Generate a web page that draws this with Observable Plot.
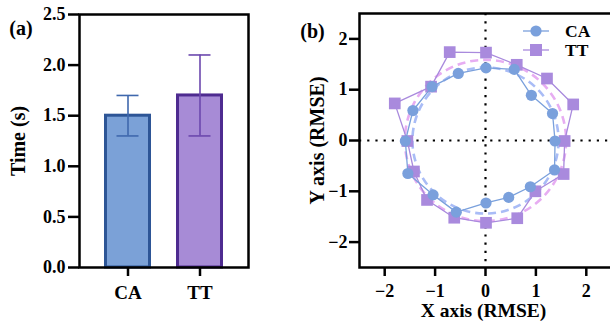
<!DOCTYPE html>
<html>
<head>
<meta charset="utf-8">
<script src="https://cdn.jsdelivr.net/npm/d3@7"></script>
<script src="https://cdn.jsdelivr.net/npm/@observablehq/plot@0.6"></script>
<style>
  html, body { margin: 0; padding: 0; background: #fff; overflow: hidden; }
  #wrap { position: relative; width: 610px; height: 322px; overflow: hidden; }
  #left, #right { position: absolute; top: 0; }
  #left { left: 0; }
  #right { left: 290px; }
  .lg-row { position: absolute; left: 520px; height: 16px; display: flex; align-items: center;
            font-family: 'Liberation Serif', 'Times New Roman', Tinos, serif; font-weight: bold; font-size: 17.5px; line-height: 16px; }
  .lg-row svg { display: block; margin-right: 13px; }
</style>
</head>
<body>
<div id="wrap">
  <div id="left"></div>
  <div id="right"></div>
</div>
<script>
// ---------- data: panel (a) ----------
const barCats = ["CA", "TT"];
const barMeans = [1.5, 1.7];
const barLow = [1.3, 1.3];
const barHigh = [1.7, 2.1];
const barTicks = [0, 0.5, 1.0, 1.5, 2.0, 2.5];

// ---------- data: panel (b) ----------
const caX = [0.01, 0.57, 0.91, 1.33, 1.38, 1.37, 0.89, 0.46, 0.01, -0.58, -1.04, -1.54, -1.59, -1.44, -1.06, -0.54];
const caY = [1.43, 1.40, 0.89, 0.53, -0.01, -0.58, -0.91, -1.12, -1.23, -1.41, -1.07, -0.65, -0.01, 0.59, 1.06, 1.32];
const ttX = [0.01, 0.62, 1.22, 1.74, 1.57, 1.55, 0.99, 0.63, 0.01, -0.62, -1.16, -1.42, -1.55, -1.80, -1.08, -0.71];
const ttY = [1.73, 1.49, 1.22, 0.71, -0.01, -0.66, -1.00, -1.53, -1.62, -1.52, -1.17, -0.61, -0.01, 0.73, 1.06, 1.74];
const fitGroups = ["CA", "TT"];
const fitRadii = [1.45, 1.6];
const rmseTicks = [-2, -1, 0, 1, 2];

// ---------- styles ----------
const barFill = {CA: "#7ba1d7", TT: "#a78bd6"};
const barStroke = {CA: "#2d5596", TT: "#4e2b90"};
const errColor = {CA: "#3f68ad", TT: "#6c48ae"};
const seriesColor = {CA: "#7aa0dc", TT: "#a98add"};
const fitColor = {CA: "#a9bcf6", TT: "#e7adf2"};
const font = "'Liberation Serif', 'Times New Roman', Tinos, serif";
const baseStyle = {fontFamily: font, fontWeight: "bold", fontSize: "18px", color: "#000", background: "transparent", overflow: "visible", maxWidth: "none"};

const bars = barCats.map((c, i) => ({cat: c, mean: barMeans[i], lo: barLow[i], hi: barHigh[i]}));

// ---------- panel (a) ----------
const left = Plot.plot({
  width: 290, height: 322,
  marginLeft: 79, marginRight: 42, marginTop: 14, marginBottom: 55,
  style: baseStyle,
  x: {domain: barCats, paddingInner: 0.35, paddingOuter: 0.34, axis: null},
  y: {domain: [0, 2.5], axis: null},
  marks: [
    Plot.barY(bars, {x: "cat", y: "mean", fill: d => barFill[d.cat], stroke: d => barStroke[d.cat], strokeWidth: 3, insetLeft: 1.5, insetRight: 1.5}),
    Plot.ruleX(bars, {x: "cat", y1: "lo", y2: "hi", stroke: d => errColor[d.cat], strokeWidth: 1.6}),
    Plot.tickY(bars, {x: "cat", y: "lo", stroke: d => errColor[d.cat], strokeWidth: 1.6, inset: 12.5}),
    Plot.tickY(bars, {x: "cat", y: "hi", stroke: d => errColor[d.cat], strokeWidth: 1.6, inset: 12.5}),
    Plot.frame({stroke: "#000", strokeWidth: 2.5}),
    Plot.axisY({ticks: barTicks, tickFormat: d3.format(".1f"), tickSize: 11, tickPadding: 3, strokeWidth: 2.5, label: null}),
    Plot.axisX({tickSize: 9, tickPadding: 9, strokeWidth: 2.5, fontSize: 19, label: null}),
    Plot.text(["Time (s)"], {frameAnchor: "left", text: d => d, rotate: -90, dx: -61, fontSize: 20, textAnchor: "middle", lineAnchor: "middle"}),
    Plot.text(["(a)"], {frameAnchor: "top-left", text: d => d, dx: -58.5, dy: 14.5, fontSize: 20, textAnchor: "middle", lineAnchor: "middle"})
  ]
});
document.getElementById("left").appendChild(left);

// ---------- panel (b) ----------
const close = (xs, ys, g) => {
  const pts = xs.map((x, i) => ({x, y: ys[i], g}));
  return pts.concat([pts[0]]);
};
const caPts = caX.map((x, i) => ({x, y: caY[i], g: "CA"}));
const ttPts = ttX.map((x, i) => ({x, y: ttY[i], g: "TT"}));
const fits = fitGroups.map((g, i) => ({g, r: fitRadii[i], x: 0, y: 0}));

const W = 322, ML = 69, MR = 1;
const pxPerUnit = (W - ML - MR) / 5;

const right = Plot.plot({
  width: W, height: 322,
  marginLeft: ML, marginRight: MR, marginTop: 13, marginBottom: 55,
  style: baseStyle,
  x: {domain: [-2.5, 2.5], axis: null},
  y: {domain: [-2.5, 2.5], axis: null},
  r: {type: "linear", domain: [0, 1], range: [0, pxPerUnit], clamp: false},
  marks: [
    Plot.ruleX([0], {stroke: "#000", strokeWidth: 2.2, strokeDasharray: "2.2,6"}),
    Plot.ruleY([0], {stroke: "#000", strokeWidth: 2.2, strokeDasharray: "2.2,6"}),
    Plot.dot(fits, {x: "x", y: "y", r: "r", fill: "none", stroke: d => fitColor[d.g], strokeWidth: 2.6, strokeDasharray: "8,5"}),
    Plot.line(close(ttX, ttY, "TT"), {x: "x", y: "y", stroke: seriesColor.TT, strokeWidth: 1.3}),
    Plot.dot(ttPts, {x: "x", y: "y", symbol: "square", r: 6.6, fill: seriesColor.TT, stroke: null}),
    Plot.line(close(caX, caY, "CA"), {x: "x", y: "y", stroke: seriesColor.CA, strokeWidth: 1.3}),
    Plot.dot(caPts, {x: "x", y: "y", symbol: "circle", r: 5.6, fill: seriesColor.CA, stroke: null}),
    Plot.frame({stroke: "#000", strokeWidth: 2.5}),
    Plot.axisY({ticks: rmseTicks, tickFormat: d3.format("d"), tickSize: 10, tickPadding: 2, strokeWidth: 2.5, label: null}),
    Plot.axisX({ticks: rmseTicks, tickFormat: d3.format("d"), tickSize: 9, tickPadding: 8, strokeWidth: 2.5, label: null}),
    Plot.text(["Y axis (RMSE)"], {frameAnchor: "left", text: d => d, rotate: -90, dx: -42, fontSize: 20, textAnchor: "middle", lineAnchor: "middle"}),
    Plot.text(["X axis (RMSE)"], {frameAnchor: "bottom", text: d => d, dx: -2, dy: 43.5, fontSize: 19.5, textAnchor: "middle", lineAnchor: "middle"}),
    Plot.text(["(b)"], {frameAnchor: "top-left", text: d => d, dx: -47, dy: 18, fontSize: 20, textAnchor: "middle", lineAnchor: "middle"})
  ]
});
document.getElementById("right").appendChild(right);

// ---------- legend ----------
const wrap = document.getElementById("wrap");
const legendTop = {CA: 23, TT: 42};
fitGroups.forEach(g => {
  const row = document.createElement("div");
  row.className = "lg-row";
  row.style.top = legendTop[g] + "px";
  const sym = g === "CA"
    ? `<circle cx="16" cy="8" r="5.6" fill="${seriesColor.CA}"/>`
    : `<rect x="10" y="2" width="12" height="12" fill="${seriesColor.TT}"/>`;
  row.innerHTML = `<svg width="32" height="16"><line x1="3" x2="29" y1="8" y2="8" stroke="${seriesColor[g]}" stroke-width="1.3"/>${sym}</svg><span>${g}</span>`;
  wrap.appendChild(row);
});
</script>
</body>
</html>
